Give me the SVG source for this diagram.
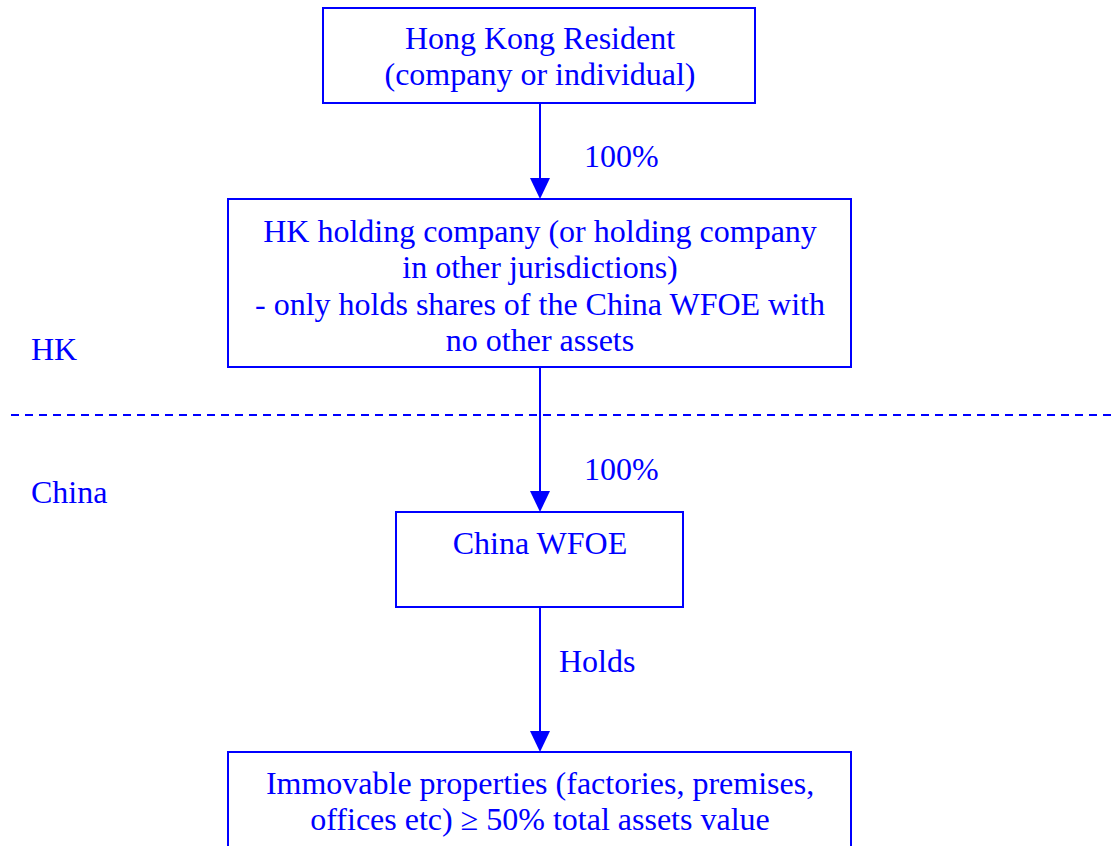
<svg xmlns="http://www.w3.org/2000/svg" width="1111" height="846" viewBox="0 0 1111 846">
<style>
.box{fill:#fff;stroke:#0000ff;stroke-width:2}
.t{font-family:"Liberation Serif","Times New Roman",serif;font-size:32px;fill:#0000ff}
.c{text-anchor:middle}
.ln{stroke:#0000ff;stroke-width:2;fill:none}
.ah{fill:#0000ff}
</style>
<rect width="1111" height="846" fill="#fff"/>
<g id="connectors">
<line class="ln" x1="540" y1="103" x2="540" y2="178"/>
<path class="ah" d="M530,178 L550,178 L540,199 Z"/>
<line class="ln" x1="540" y1="367" x2="540" y2="491"/>
<path class="ah" d="M530,491 L550,491 L540,512 Z"/>
<line class="ln" x1="540" y1="607" x2="540" y2="731"/>
<path class="ah" d="M530,731 L550,731 L540,752 Z"/>
<line x1="11" y1="415" x2="1111" y2="415" stroke="#0000ff" stroke-width="2" stroke-dasharray="8,6"/>
</g>
<g id="n1">
<rect class="box" x="323" y="8" width="432" height="95"/>
<text class="t c" x="540" y="49">Hong Kong Resident</text>
<text class="t c" x="540" y="85">(company or individual)</text>
</g>
<g id="n2">
<rect class="box" x="228" y="199" width="623" height="168"/>
<text class="t c" x="540" y="242">HK holding company (or holding company</text>
<text class="t c" x="540" y="278">in other jurisdictions)</text>
<text class="t c" x="540" y="315">- only holds shares of the China WFOE with</text>
<text class="t c" x="540" y="351">no other assets</text>
</g>
<g id="n3">
<rect class="box" x="396" y="512" width="287" height="95"/>
<text class="t c" x="540" y="554">China WFOE</text>
</g>
<g id="n4">
<rect class="box" x="228" y="752" width="623" height="110"/>
<text class="t c" x="540" y="794">Immovable properties (factories, premises,</text>
<text class="t c" x="540" y="830">offices etc) ≥ 50% total assets value</text>
</g>
<g id="labels">
<text class="t" x="584" y="167">100%</text>
<text class="t" x="584" y="480">100%</text>
<text class="t" x="559" y="672">Holds</text>
<text class="t" x="31" y="360">HK</text>
<text class="t" x="31" y="503">China</text>
</g>
</svg>
